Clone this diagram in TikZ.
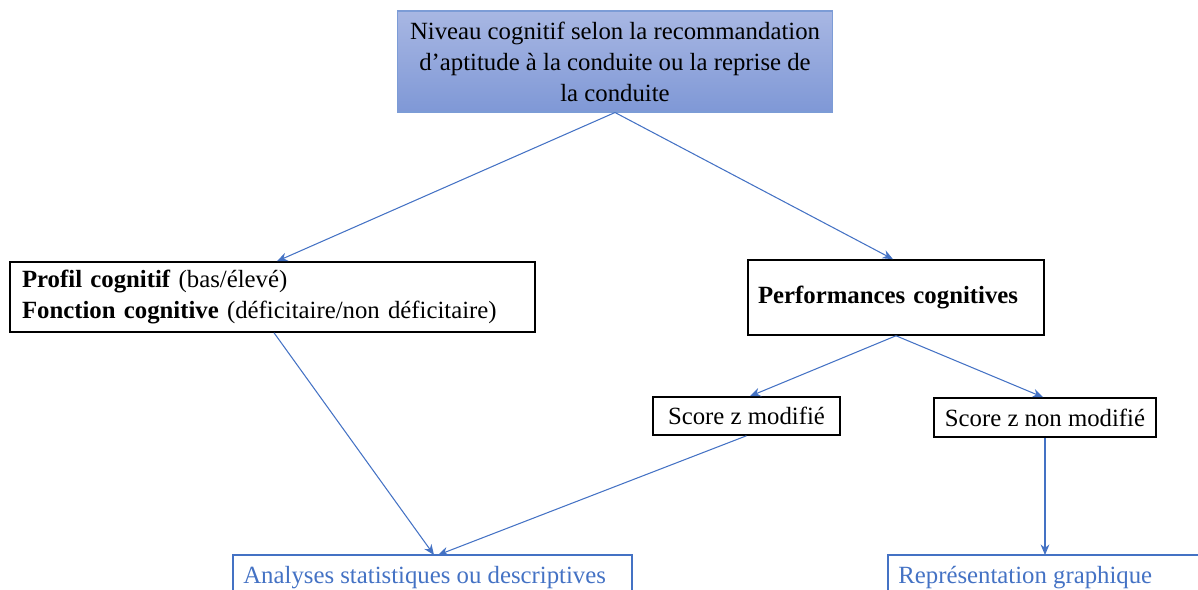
\documentclass[tikz,border=0pt]{standalone}
\usepackage{fontspec}
\setmainfont{Liberation Serif}
\usetikzlibrary{arrows.meta}
\definecolor{lineblue}{HTML}{4472C4}
\definecolor{gradtop}{HTML}{A8B7E3}
\definecolor{gradbot}{HTML}{7F98D6}
\tikzset{
  px/.style={x=0.02cm,y=-0.02cm},
  txt/.style={font=\fontsize{14.1}{17.6}\selectfont},
  blackbox/.style={draw=black,line width=0.9pt,inner sep=0pt,txt},
  arr/.style={draw=lineblue,line width=0.6pt,-{Stealth[length=6pt,width=5pt]}},
  openbox/.style={draw=lineblue,line width=0.9pt},
  bluetxt/.style={txt,text=lineblue,inner sep=0pt,anchor=base west}
}
\begin{document}
\begin{tikzpicture}[px]
\useasboundingbox (0,0) rectangle (1198,590);
\node[draw=lineblue!70,line width=0.6pt,top color=gradtop,bottom color=gradbot,
  minimum width=8.72cm,minimum height=2.02cm,txt,align=center,inner sep=0pt] (top) at (615,61.5)
  {Niveau cognitif selon la recommandation\\d’aptitude à la conduite ou la reprise de\\la conduite};
\node[blackbox,minimum width=10.5cm,minimum height=1.4cm,text width=10.02cm,align=left] (left) at (272.5,297)
  {\textbf{Profil cognitif} (bas/élevé)\\\textbf{Fonction cognitive} (déficitaire/non déficitaire)};
\node[blackbox,minimum width=5.92cm,minimum height=1.5cm,text width=5.52cm,align=left] (perf) at (896,297.5)
  {\textbf{Performances cognitives}};
\node[blackbox,minimum width=3.74cm,minimum height=0.76cm] (smod) at (746.5,416) {Score z modifié};
\node[blackbox,minimum width=4.44cm,minimum height=0.78cm] (snon) at (1045,417.5) {Score z non modifié};
\draw[openbox] (233,592) -- (233,555) -- (632,555) -- (632,592);
\draw[openbox] (888,592) -- (888,555) -- (1200,555);
\node[bluetxt] (ana) at (243,584) {Analyses statistiques ou descriptives};
\node[bluetxt] (rep) at (898,584) {Représentation graphique};
\coordinate (anaA) at (434,555);
\coordinate (anaB) at (438,555);
\coordinate (repT) at (1045,555);
\draw[arr] (top.south) -- ([xshift=0.09cm]left.north);
\draw[arr] (top.south) -- ([xshift=-0.06cm]perf.north);
\draw[arr] ([xshift=0.03cm]left.south) -- (anaA);
\draw[arr] (perf.south) -- ([xshift=0.07cm]smod.north);
\draw[arr] (perf.south) -- ([xshift=-0.04cm]snon.north);
\draw[arr] (smod.south) -- (anaB);
\draw[arr] (snon.south) -- (repT);
\end{tikzpicture}
\end{document}
